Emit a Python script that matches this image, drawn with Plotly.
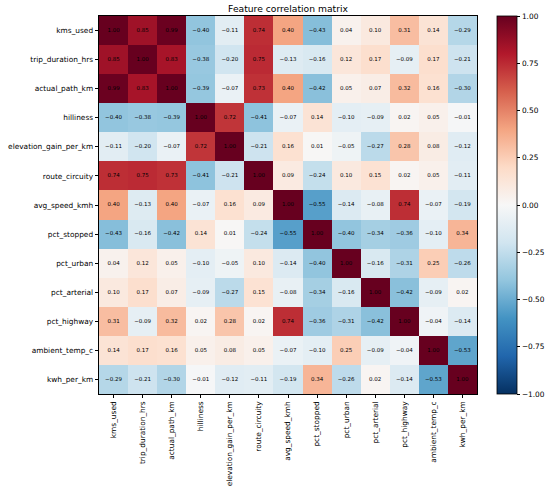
import plotly.graph_objects as go

features = ["kms_used", "trip_duration_hrs", "actual_path_km", "hilliness",
            "elevation_gain_per_km", "route_circuity", "avg_speed_kmh", "pct_stopped",
            "pct_urban", "pct_arterial", "pct_highway", "ambient_temp_c", "kwh_per_km"]

corr = [
    [1.00, 0.85, 0.99, -0.40, -0.11, 0.74, 0.40, -0.43, 0.04, 0.10, 0.31, 0.14, -0.29],
    [0.85, 1.00, 0.83, -0.38, -0.20, 0.75, -0.13, -0.16, 0.12, 0.17, -0.09, 0.17, -0.21],
    [0.99, 0.83, 1.00, -0.39, -0.07, 0.73, 0.40, -0.42, 0.05, 0.07, 0.32, 0.16, -0.30],
    [-0.40, -0.38, -0.39, 1.00, 0.72, -0.41, -0.07, 0.14, -0.10, -0.09, 0.02, 0.05, -0.01],
    [-0.11, -0.20, -0.07, 0.72, 1.00, -0.21, 0.16, 0.01, -0.05, -0.27, 0.28, 0.08, -0.12],
    [0.74, 0.75, 0.73, -0.41, -0.21, 1.00, 0.09, -0.24, 0.10, 0.15, 0.02, 0.05, -0.11],
    [0.40, -0.13, 0.40, -0.07, 0.16, 0.09, 1.00, -0.55, -0.14, -0.08, 0.74, -0.07, -0.19],
    [-0.43, -0.16, -0.42, 0.14, 0.01, -0.24, -0.55, 1.00, -0.40, -0.34, -0.36, -0.10, 0.34],
    [0.04, 0.12, 0.05, -0.10, -0.05, 0.10, -0.14, -0.40, 1.00, -0.16, -0.31, 0.25, -0.26],
    [0.10, 0.17, 0.07, -0.09, -0.27, 0.15, -0.08, -0.34, -0.16, 1.00, -0.42, -0.09, 0.02],
    [0.31, -0.09, 0.32, 0.02, 0.28, 0.02, 0.74, -0.36, -0.31, -0.42, 1.00, -0.04, -0.14],
    [0.14, 0.17, 0.16, 0.05, 0.08, 0.05, -0.07, -0.10, 0.25, -0.09, -0.04, 1.00, -0.53],
    [-0.29, -0.21, -0.30, -0.01, -0.12, -0.11, -0.19, 0.34, -0.26, 0.02, -0.14, -0.53, 1.00],
]

cbar_ticks = [-1.0, -0.75, -0.5, -0.25, 0.0, 0.25, 0.5, 0.75, 1.0]

rdbu_r = ['rgb(5,48,97)', 'rgb(33,102,172)', 'rgb(67,147,195)', 'rgb(146,197,222)',
          'rgb(209,229,240)', 'rgb(247,247,247)', 'rgb(253,219,199)', 'rgb(244,165,130)',
          'rgb(214,96,77)', 'rgb(178,24,43)', 'rgb(103,0,31)']
colorscale = [[i / (len(rdbu_r) - 1), c] for i, c in enumerate(rdbu_r)]

def fmt(v):
    s = f"{v:.2f}"
    return s.replace("-", "\u2212")

fig = go.Figure(go.Heatmap(
    z=corr, x=features, y=features,
    zmin=-1, zmax=1, colorscale=colorscale,
    xgap=0, ygap=0,
    colorbar=dict(
        x=1.053, xanchor="left", xref="paper",
        y=0.5, yanchor="middle", len=1.0, lenmode="fraction",
        thickness=20, outlinewidth=0.8, outlinecolor="black",
        xpad=0, ypad=0,
        tickmode="array",
        tickvals=cbar_ticks, ticktext=[fmt(t) for t in cbar_ticks],
        ticks="outside", ticklen=3.5, tickwidth=0.8, tickcolor="black",
        tickfont=dict(size=7.4, family="DejaVu Sans", color="black"),
    ),
))

tx, ty, tt = [], [], []
for i, row_name in enumerate(features):
    for j, col_name in enumerate(features):
        tx.append(col_name)
        ty.append(row_name)
        tt.append(fmt(corr[i][j]))

fig.add_trace(go.Scatter(
    x=tx, y=ty, text=tt, mode="text", showlegend=False, hoverinfo="skip",
    textfont=dict(size=5.5, color="black", family="DejaVu Sans"),
))

n = len(features)
fig.update_layout(
    width=550, height=493,
    margin=dict(l=99, r=73, t=16, b=99, autoexpand=False),
    paper_bgcolor="white", plot_bgcolor="white",
    font=dict(family="DejaVu Sans", color="black"),
    title=dict(text="Feature correlation matrix", x=288 / 550, xanchor="center",
               y=1 - 8.5 / 493, yanchor="middle",
               font=dict(size=9.2, family="DejaVu Sans", color="black")),
)
fig.update_xaxes(range=[-0.5, n - 0.5], tickangle=-90, ticks="outside", ticklen=3.5, tickwidth=0.8,
                 tickcolor="black", showline=True, linecolor="black", linewidth=0.8, mirror=True,
                 automargin=False, tickfont=dict(size=7.4, family="DejaVu Sans"),
                 showgrid=False, zeroline=False)
fig.update_yaxes(range=[n - 0.5, -0.5], ticks="outside", ticklen=3.5, tickwidth=0.8,
                 tickcolor="black", showline=True, linecolor="black", linewidth=0.8, mirror=True,
                 automargin=False, tickfont=dict(size=7.4, family="DejaVu Sans"),
                 showgrid=False, zeroline=False)

fig.write_html("out.html", config={"displayModeBar": False},
               post_script="document.body.style.margin='0px';")
